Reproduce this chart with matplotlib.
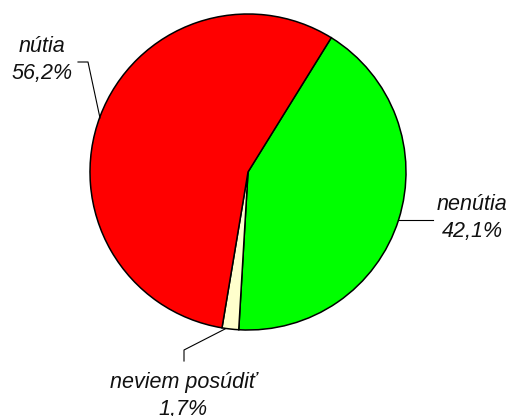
import matplotlib.pyplot as plt

# data
kategorie = ['nenútia', 'neviem posúdiť', 'nútia']
hodnoty = [42.1, 1.7, 56.2]
farby = ['#00FF00', '#FFFFCC', '#FF0000']

W, H = 510, 416
fig = plt.figure(figsize=(W / 100, H / 100), dpi=100)
ax = fig.add_axes([0, 0, 1, 1])
ax.set_xlim(0, W)
ax.set_ylim(0, H)
ax.set_aspect('equal')
ax.axis('off')

ax.pie(hodnoty, colors=farby, center=(248, 244), radius=158,
       startangle=58.2, counterclock=False,
       wedgeprops=dict(edgecolor='black', linewidth=1.1))
ax.set_xlim(0, W)
ax.set_ylim(0, H)

font = dict(family='Liberation Sans', style='italic', fontsize=15.5,
            ha='center', va='center', color='#111111')

def popis(i):
    return f"{kategorie[i]}\n{hodnoty[i]:.1f}%".replace('.', ',')

ax.text(42, 356, popis(2), linespacing=1.4, **font)
ax.text(472, 198, popis(0), linespacing=1.4, **font)
ax.text(183, 20, popis(1), linespacing=1.4, **font)

# spojovacie ciary
ax.plot([78, 88, 100], [354, 354, 298], color='black', lw=0.8)
ax.plot([398, 433], [196, 196], color='black', lw=0.8)
ax.plot([225, 184, 184], [87, 66, 55], color='black', lw=0.8)

fig.savefig('out.png', dpi=100)
